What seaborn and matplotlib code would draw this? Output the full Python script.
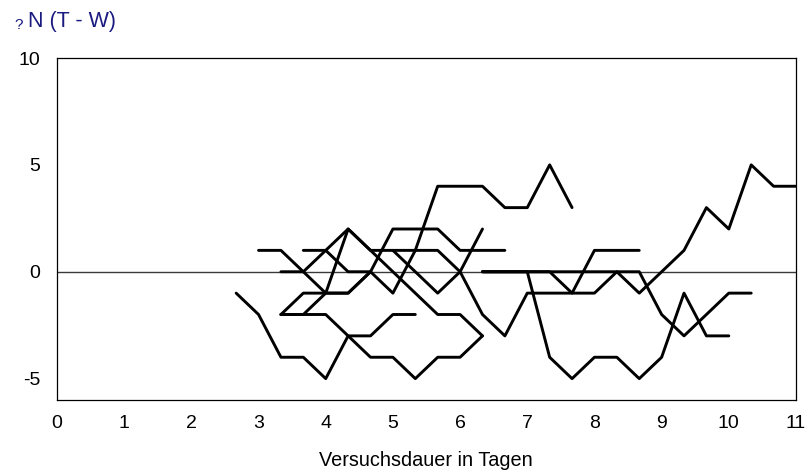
import numpy as np
import pandas as pd
import matplotlib
matplotlib.use("Agg")
import matplotlib.pyplot as plt
import seaborn as sns

# ---- data: each run starts at a step index (1 step = 1/3 day) ----
STEP = 1 / 3
run_names = ["r1", "r2", "r3", "r4", "r5", "r6", "r7", "r8", "r9", "r10", "r11"]
run_start = [8, 10, 9, 10, 10, 11, 10, 15, 19, 19, 19]
r1 = [-1, -2, -4, -4, -5, -3, -3, -2, -2]
r2 = [-2, -2, -2, -3, -4, -4, -5, -4, -4, -3]
r3 = [1, 1, 0, -1, 2, 1, 0, -1, -2, -2, -3]
r4 = [-2, -2, -1, -1, 0]
r5 = [0, 0, 1, 2, 1, 1, 0, -1, 0, 2]
r6 = [1, 1, 0, 0, 2, 2, 2, 1, 1, 1]
r7 = [-2, -1, -1, -1, 0, -1, 1, 4, 4, 4, 3, 3, 5, 3]
r8 = [1, 1, 1, 0, -2, -3, -1, -1, -1, -1, 0, -1, 0, 1, 3, 2, 5, 4, 4]
r9 = [0, 0, 0, -4, -5, -4, -4, -5, -4, -1, -3, -3]
r10 = [0, 0, 0, 0, -1, 1, 1, 1]
r11 = [0, 0, 0, 0, 0, 0, 0, 0, -2, -3, -2, -1, -1]
run_values = [r1, r2, r3, r4, r5, r6, r7, r8, r9, r10, r11]

x_ticks = list(range(0, 12))
y_ticks = [-5, 0, 5, 10]
y_tick_labels = ["-5", "0", "5", "10"]
x_label = "Versuchsdauer in Tagen"
y_label_q = "?"
y_label = "N (T - W)"

rows = []
for name, s, vals in zip(run_names, run_start, run_values):
    for i, v in enumerate(vals):
        rows.append({"run": name, "day": (s + i) * STEP, "value": v})
df = pd.DataFrame(rows)

# ---- style ----
sns.set_style("white")
plt.rcParams["font.family"] = ["Liberation Sans", "DejaVu Sans"]
plt.rcParams["axes.unicode_minus"] = False

W, H = 811, 473
fig = plt.figure(figsize=(W / 100, H / 100), dpi=100)
ax = fig.add_axes([57 / W, 1 - 400 / H, (796 - 57) / W, (400 - 58) / H])

ax.axhline(0, color="#3a3a3a", lw=1.0, zorder=1)
sns.lineplot(data=df, x="day", y="value", units="run", estimator=None,
             sort=False, color="black", linewidth=2.1, ax=ax, legend=False,
             zorder=2)

ax.set_xlim(0, 11)
ax.set_ylim(-6, 10)
ax.set_xticks(x_ticks)
ax.set_xticklabels([str(t) for t in x_ticks])
ax.set_yticks(y_ticks)
ax.set_yticklabels(y_tick_labels)
ax.tick_params(axis="both", length=0, labelsize=14, colors="black")
ax.tick_params(axis="x", pad=10.5)
ax.tick_params(axis="y", pad=12)
ax.set_xlabel("")
ax.set_ylabel("")
for sp in ax.spines.values():
    sp.set_visible(True)
    sp.set_color("black")
    sp.set_linewidth(0.9)

fig.text(426 / W, 1 - 460 / H, x_label, ha="center", va="center",
         fontsize=14.3, color="black")
fig.text(14 / W, 1 - 25 / H, y_label_q, ha="left", va="center",
         fontsize=11, color="#1a1a80")
fig.text(28 / W, 1 - 22 / H, y_label, ha="left", va="center",
         fontsize=15.5, color="#1a1a80")

fig.savefig("out.png", dpi=100)
